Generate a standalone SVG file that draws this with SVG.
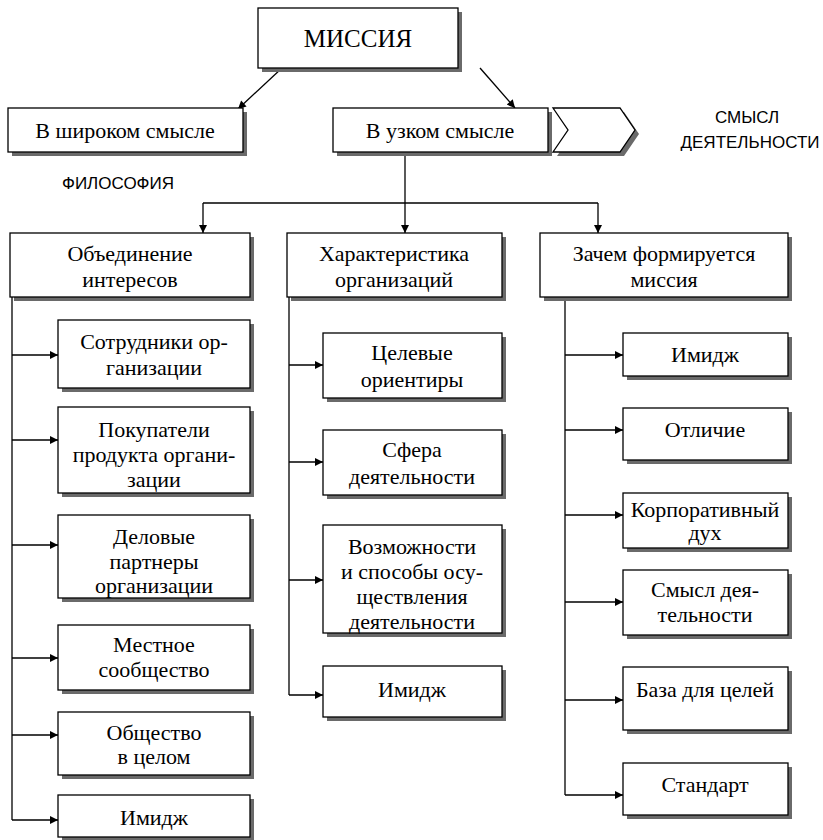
<svg xmlns="http://www.w3.org/2000/svg" width="823" height="840" viewBox="0 0 823 840">
<defs>
<marker id="ah" viewBox="0 0 10 10" refX="10" refY="5" markerWidth="10" markerHeight="8" markerUnits="userSpaceOnUse" orient="auto">
<path d="M0,0 L10,5 L0,10 Z" fill="#000"/>
</marker>
<style>
.box{fill:#fff;stroke:#000;stroke-width:1.3}
.sh{fill:#6a6a6a}
.t{font-size:22px;fill:#000;text-anchor:middle}
.s{font-size:17px;fill:#000;text-anchor:middle}
.ln{fill:none;stroke:#000;stroke-width:1.3}
.ar{fill:none;stroke:#000;stroke-width:1.3;marker-end:url(#ah)}
</style>
</defs>
<rect width="823" height="840" fill="#fff"/>

<g id="connectors">
<line class="ar" x1="282" y1="68" x2="238" y2="109"/>
<line class="ar" x1="480" y1="68" x2="515" y2="108"/>
<polyline class="ln" points="405,152 405,203"/>
<polyline class="ln" points="203,203 598,203"/>
<line class="ar" x1="203" y1="203" x2="203" y2="233"/>
<line class="ar" x1="405" y1="203" x2="405" y2="233"/>
<line class="ar" x1="598" y1="203" x2="598" y2="233"/>
<polyline class="ln" points="12,297 12,820"/>
<line class="ar" x1="12" y1="355" x2="58" y2="355"/>
<line class="ar" x1="12" y1="440" x2="58" y2="440"/>
<line class="ar" x1="12" y1="545" x2="58" y2="545"/>
<line class="ar" x1="12" y1="658" x2="58" y2="658"/>
<line class="ar" x1="12" y1="735" x2="58" y2="735"/>
<line class="ar" x1="12" y1="820" x2="58" y2="820"/>
<polyline class="ln" points="289,297 289,695"/>
<line class="ar" x1="289" y1="365" x2="323" y2="365"/>
<line class="ar" x1="289" y1="462" x2="323" y2="462"/>
<line class="ar" x1="289" y1="580" x2="323" y2="580"/>
<line class="ar" x1="289" y1="695" x2="323" y2="695"/>
<polyline class="ln" points="565,297 565,795"/>
<line class="ar" x1="565" y1="355" x2="623" y2="355"/>
<line class="ar" x1="565" y1="430" x2="623" y2="430"/>
<line class="ar" x1="565" y1="515" x2="623" y2="515"/>
<line class="ar" x1="565" y1="602" x2="623" y2="602"/>
<line class="ar" x1="565" y1="700" x2="623" y2="700"/>
<line class="ar" x1="565" y1="795" x2="623" y2="795"/>
</g>

<g font-family="'Liberation Serif', 'Times New Roman', serif">
<g id="mission">
<rect class="sh" x="262" y="12" width="200" height="60"/>
<rect class="box" x="258" y="8" width="200" height="60"/>
<text class="t" x="358" y="47" style="font-size:25px">МИССИЯ</text>
</g>
<g id="broad">
<rect class="sh" x="12" y="112" width="235" height="44"/>
<rect class="box" x="8" y="108" width="235" height="44"/>
<text class="t" x="125" y="138">В широком смысле</text>
</g>
<g id="narrow">
<rect class="sh" x="337" y="112" width="215" height="44"/>
<rect class="box" x="333" y="108" width="215" height="44"/>
<text class="t" x="440" y="138">В узком смысле</text>
</g>
<g id="chevron">
<polygon class="sh" points="557,112 624,112 639,134 624,156 557,156 572,134"/>
<polygon class="box" points="553,108 620,108 635,130 620,152 553,152 568,130"/>
</g>
</g>
<g font-family="'Liberation Sans', Arial, sans-serif">
<g id="meaning-label">
<text class="s" x="747" y="123">СМЫСЛ</text>
<text class="s" x="750" y="148">ДЕЯТЕЛЬНОСТИ</text>
</g>
<g id="philosophy-label">
<text class="s" x="118" y="189">ФИЛОСОФИЯ</text>
</g>
</g>

<g font-family="'Liberation Serif', 'Times New Roman', serif">
<g id="interests">
<rect class="sh" x="14" y="237" width="240" height="64"/>
<rect class="box" x="10" y="233" width="240" height="64"/>
<text class="t" x="130" y="261">Объединение</text>
<text class="t" x="130" y="287">интересов</text>
</g>
<g id="characteristics">
<rect class="sh" x="291" y="237" width="215" height="64"/>
<rect class="box" x="287" y="233" width="215" height="64"/>
<text class="t" x="394" y="261">Характеристика</text>
<text class="t" x="394" y="287">организаций</text>
</g>
<g id="why">
<rect class="sh" x="544" y="237" width="248" height="64"/>
<rect class="box" x="540" y="233" width="248" height="64"/>
<text class="t" x="664" y="261">Зачем формируется</text>
<text class="t" x="664" y="287">миссия</text>
</g>

<g id="employees">
<rect class="sh" x="62" y="324" width="192" height="68"/>
<rect class="box" x="58" y="320" width="192" height="68"/>
<text class="t" x="154" y="349">Сотрудники ор-</text>
<text class="t" x="154" y="375">ганизации</text>
</g>
<g id="buyers">
<rect class="sh" x="62" y="411" width="192" height="86"/>
<rect class="box" x="58" y="407" width="192" height="86"/>
<text class="t" x="154" y="437">Покупатели</text>
<text class="t" x="154" y="462">продукта органи-</text>
<text class="t" x="154" y="487">зации</text>
</g>
<g id="partners">
<rect class="sh" x="62" y="519" width="192" height="83"/>
<rect class="box" x="58" y="515" width="192" height="83"/>
<text class="t" x="154" y="544">Деловые</text>
<text class="t" x="154" y="569">партнеры</text>
<text class="t" x="154" y="593">организации</text>
</g>
<g id="community">
<rect class="sh" x="62" y="629" width="192" height="65"/>
<rect class="box" x="58" y="625" width="192" height="65"/>
<text class="t" x="154" y="652">Местное</text>
<text class="t" x="154" y="677">сообщество</text>
</g>
<g id="society">
<rect class="sh" x="62" y="716" width="192" height="63"/>
<rect class="box" x="58" y="712" width="192" height="63"/>
<text class="t" x="154" y="740">Общество</text>
<text class="t" x="154" y="764">в целом</text>
</g>
<g id="image-left">
<rect class="sh" x="62" y="799" width="192" height="42"/>
<rect class="box" x="58" y="795" width="192" height="42"/>
<text class="t" x="154" y="825">Имидж</text>
</g>

<g id="targets">
<rect class="sh" x="327" y="337" width="179" height="65"/>
<rect class="box" x="323" y="333" width="179" height="65"/>
<text class="t" x="412" y="360">Целевые</text>
<text class="t" x="412" y="387">ориентиры</text>
</g>
<g id="sphere">
<rect class="sh" x="327" y="434" width="179" height="65"/>
<rect class="box" x="323" y="430" width="179" height="65"/>
<text class="t" x="412" y="457">Сфера</text>
<text class="t" x="412" y="484">деятельности</text>
</g>
<g id="capabilities">
<rect class="sh" x="327" y="529" width="179" height="108"/>
<rect class="box" x="323" y="525" width="179" height="108"/>
<text class="t" x="412" y="554">Возможности</text>
<text class="t" x="412" y="579">и способы осу-</text>
<text class="t" x="412" y="604">ществления</text>
<text class="t" x="412" y="629">деятельности</text>
</g>
<g id="image-mid">
<rect class="sh" x="327" y="670" width="179" height="51"/>
<rect class="box" x="323" y="666" width="179" height="51"/>
<text class="t" x="412" y="697">Имидж</text>
</g>

<g id="image-right">
<rect class="sh" x="627" y="337" width="165" height="43"/>
<rect class="box" x="623" y="333" width="165" height="43"/>
<text class="t" x="705" y="362">Имидж</text>
</g>
<g id="distinction">
<rect class="sh" x="627" y="412" width="165" height="52"/>
<rect class="box" x="623" y="408" width="165" height="52"/>
<text class="t" x="705" y="437">Отличие</text>
</g>
<g id="spirit">
<rect class="sh" x="627" y="497" width="165" height="55"/>
<rect class="box" x="623" y="493" width="165" height="55"/>
<text class="t" x="705" y="517">Корпоративный</text>
<text class="t" x="705" y="540">дух</text>
</g>
<g id="sense">
<rect class="sh" x="627" y="574" width="165" height="65"/>
<rect class="box" x="623" y="570" width="165" height="65"/>
<text class="t" x="705" y="597">Смысл дея-</text>
<text class="t" x="705" y="622">тельности</text>
</g>
<g id="base">
<rect class="sh" x="627" y="671" width="165" height="63"/>
<rect class="box" x="623" y="667" width="165" height="63"/>
<text class="t" x="705" y="697">База для целей</text>
</g>
<g id="standard">
<rect class="sh" x="627" y="767" width="165" height="52"/>
<rect class="box" x="623" y="763" width="165" height="52"/>
<text class="t" x="705" y="792">Стандарт</text>
</g>
</g>
</svg>
